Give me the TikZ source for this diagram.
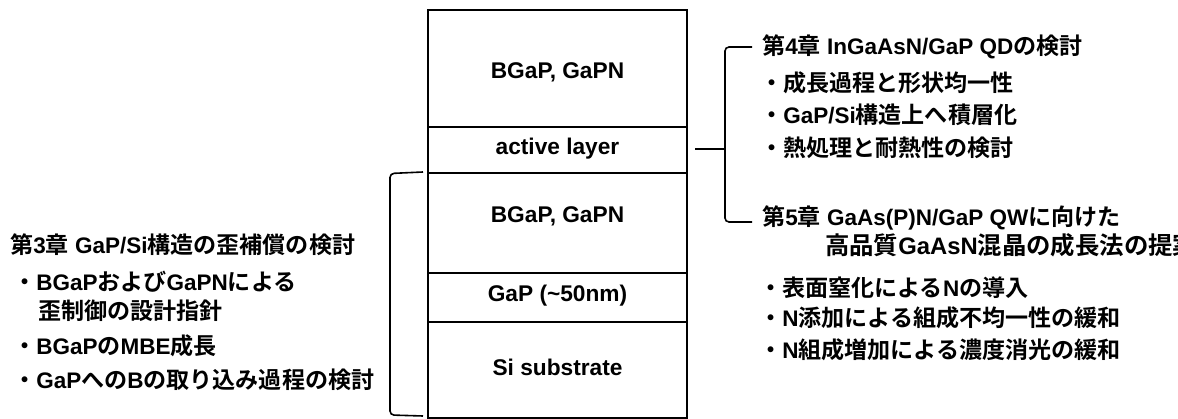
\documentclass[tikz,border=0pt]{standalone}
\usepackage{fontspec}
\setmainfont{Liberation Sans}
\newfontfamily\jpfont{Noto Sans CJK JP}[BoldFont={Noto Sans CJK JP Bold}, Scale=1.025]
\newcommand\J[1]{{\jpfont #1}}

\tikzset{
  layer/.style={draw, line width=1.6pt, minimum width=259pt, inner sep=0pt, anchor=north},
  boxlabel/.style={inner sep=0pt, font=\fontsize{22.7}{27}\selectfont\bfseries},
  txt/.style={inner sep=0pt, anchor=west, font=\fontsize{22.5}{27}\selectfont\bfseries},
  bigtxt/.style={txt, font=\fontsize{23.8}{28}\selectfont\bfseries},
  brace/.style={line width=1.6pt, rounded corners=4pt}
}

\begin{document}
\begin{tikzpicture}[x=1pt, y=-1pt]
  \useasboundingbox (0,0) rectangle (1178,419);
  \clip (0,0) rectangle (1178,419);

  % layer stack
  \node[layer, minimum height=117pt] (l1) at (557.5,9)   {};
  \node[layer, minimum height=46pt]  (l2) at (557.5,126) {};
  \node[layer, minimum height=100pt] (l3) at (557.5,172) {};
  \node[layer, minimum height=49pt]  (l4) at (557.5,272) {};
  \node[layer, minimum height=96pt]  (l5) at (557.5,321) {};

  \node[boxlabel] (t1) at (557.5,72)  {BGaP, GaPN};
  \node[boxlabel] (t2) at (557.5,149) {active layer};
  \node[boxlabel] (t3) at (557.5,216) {BGaP, GaPN};
  \node[boxlabel] (t4) at (557.5,296) {GaP (\textasciitilde50nm)};
  \node[boxlabel] (t5) at (557.5,367) {Si substrate};

  % left bracket (chapter 3)
  \coordinate (lb1) at (423,172);
  \coordinate (lb2) at (423,416);
  \draw[brace] (lb1) -- (390,173.5) -- (390,415) -- (lb2);

  % right bracket (chapters 4 and 5)
  \coordinate (rb0) at (695,149);
  \coordinate (rb1) at (725,149);
  \coordinate (rbt) at (752,47);
  \coordinate (rbb) at (752,222);
  \draw[line width=1.6pt] (rb0) -- (rb1);
  \draw[brace] (rbt) -- (725,47) -- (725,222) -- (rbb);

  % chapter 4
  \node[txt] (c4)  at (762,47)  {\J{第}4\J{章} InGaAsN/GaP QD\J{の検討}};
  \node[txt] (c4a) at (760,83)  {\J{・成長過程と形状均一性}};
  \node[txt] (c4b) at (760,115) {\J{・}GaP/Si\J{構造上へ積層化}};
  \node[txt] (c4c) at (760,148) {\J{・熱処理と耐熱性の検討}};

  % chapter 5
  \node[txt] (c5)  at (762,218) {\J{第}5\J{章} GaAs(P)N/GaP QW\J{に向けた}};
  \node[bigtxt] (c5l) at (825,245) {\J{高品質}GaAsN\J{混晶の成長法の提案}};
  \node[txt] (c5a) at (759,288) {\J{・表面窒化による}N\J{の導入}};
  \node[txt] (c5b) at (759,318) {\J{・}N\J{添加による組成不均一性の緩和}};
  \node[txt] (c5c) at (759,350) {\J{・}N\J{組成増加による濃度消光の緩和}};

  % chapter 3
  \node[txt] (c3)  at (10,245)  {\J{第}3\J{章} GaP/Si\J{構造の歪補償の検討}};
  \node[txt] (c3a) at (13,282)  {\J{・}BGaP\J{および}GaPN\J{による}};
  \node[txt] (c3l) at (38,311)  {\J{歪制御の設計指針}};
  \node[txt] (c3b) at (13,346)  {\J{・}BGaP\J{の}MBE\J{成長}};
  \node[txt] (c3c) at (13,380)  {\J{・}GaP\J{への}B\J{の取り込み過程の検討}};
\end{tikzpicture}
\end{document}
